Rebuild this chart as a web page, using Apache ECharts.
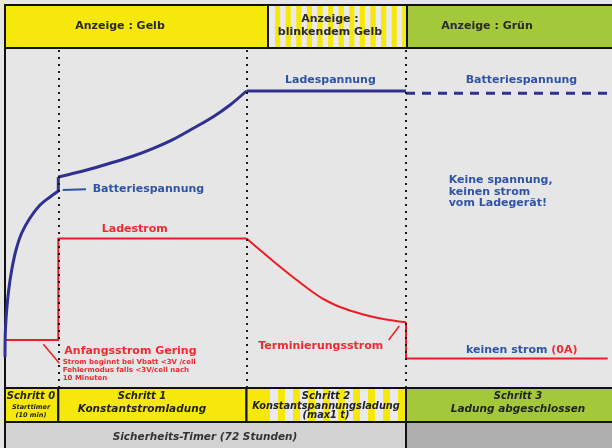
<!DOCTYPE html>
<html>
<head>
<meta charset="utf-8">
<script src="https://cdn.jsdelivr.net/npm/echarts@6/dist/echarts.min.js"></script>
<style>
html,body{margin:0;padding:0;background:#e6e6e6;}
.main{width:612px;height:448px;}
</style>
</head>
<body>
<div class="main"></div>
<script>
// time axis in free units (about one unit per pixel of the source drawing)
var tEnd = 607;
var stageEdges = [0, 53.3, 241.5, 401, 607];

// LED indicator row
var ledEdges = [0, 263, 402, 607];
var ledLabels = ['Anzeige : Gelb', 'Anzeige :\nblinkendem Gelb', 'Anzeige : Grün'];
var ledLabelAt = [115, 325, 482];

// step row
var stepTitles = ['Schritt 0', 'Schritt 1', 'Schritt 2', 'Schritt 3'];
var stepNames = ['Starttimer\n(10 min)', 'Konstantstromladung', 'Konstantspannungsladung\n(max1 t)', 'Ladung abgeschlossen'];
var stepLabelAt = [26, 137, 321, 513];

// safety timer row
var timerEdges = [0, 401, 607];
var timerLabels = ['Sicherheits-Timer (72 Stunden)', ''];
var timerLabelAt = [200, 504];

// Batteriespannung: rise in step 0, jump, rise in step 1, hold at Ladespannung
var voltRiseT = [0, 0.3, 1.7, 3.7, 6.7, 11, 16.7, 25, 35, 45, 53.3];
var voltRiseV = [31, 55, 78, 98, 118, 138, 155, 170, 183, 191, 197];
var voltJumpT = [53.3, 53.3];
var voltJumpV = [197, 211];
var voltMainT = [53.3, 81.7, 105, 128.3, 148.3, 168.3, 188.3, 208.3, 225, 241.5];
var voltMainV = [211, 218, 224.7, 232, 239.7, 248.7, 259.7, 271.3, 283, 297];
var voltHoldT = [241.5, 401];
var voltHoldV = [297, 297];
// voltage after charging ends (dashed)
var restT = [401, 607];
var restV = [294.7, 294.7];
// Ladestrom: low start, constant current, falling, off
var currStepT = [0, 53.3, 53.3, 241.5];
var currStepV = [48, 48, 149.5, 149.5];
var currFallT = [241.5, 258.3, 275, 291.7, 308.3, 318.3, 335, 358.3, 378.3, 401];
var currFallV = [149.5, 135.3, 121.3, 108, 95.5, 89, 81, 73.5, 69, 65.7];
var currOffT = [401, 401, 602.7];
var currOffV = [65.7, 29.5, 29.5];

// short pointer strokes next to labels
var battPtrT = [57.7, 81], battPtrV = [198, 198.7];
var startPtrT = [38.3, 54.3], startPtrV = [43.7, 24.7];
var termPtrT = [383.7, 394.3], termPtrV = [48, 62];

// labels inside the plot (left edge t, middle v)
var blueNotes = ['Ladespannung', 'Batteriespannung', 'Batteriespannung', 'Keine spannung,\nkeinen strom\nvom Ladegerät!', 'keinen strom {r|(0A)}'];
var blueNoteT = [280, 460.7, 87.7, 443.7, 461];
var blueNoteV = [308, 308, 199, 196, 38];
var redNotes = ['Ladestrom', 'Terminierungsstrom', 'Anfangsstrom Gering'];
var redNoteT = [96.7, 253.3, 59.3];
var redNoteV = [159, 42, 37];
var smallNotes = ['Strom beginnt bei Vbatt <3V /cell\nFehlermodus falls <3V/cell nach\n10 Minuten'];
var smallNoteT = [57.7];
var smallNoteV = [17.7];

var FONT = '"DejaVu Sans", Verdana, sans-serif';
var YELLOW = '#f6e80a', GREEN = '#a3c93a', LIGHT = '#e9e9ee';
var BLUE = '#2e3192', BLUE_TXT = '#2f53a6', RED = '#ee1c25', RED_TXT = '#ef2a33';

function zip(a, b) { return a.map(function (x, i) { return [x, b[i]]; }); }

function stripes(x0, x1, y0, h, start, period, w, color) {
  var out = [];
  for (var x = start; x < x1; x += period) {
    var a = Math.max(x, x0), b = Math.min(x + w, x1);
    if (b > a) out.push({ type: 'rect', shape: { x: a, y: y0, width: b - a, height: h }, style: { fill: color } });
  }
  return out;
}

function bandSeries(grid, edges, openBottom, fillFn, textFn) {
  var data = [];
  for (var i = 0; i < edges.length - 1; i++) data.push([edges[i], edges[i + 1], i]);
  return {
    type: 'custom', xAxisIndex: grid, yAxisIndex: grid, silent: true,
    data: data,
    renderItem: function (params, api) {
      var i = api.value(2);
      var p0 = api.coord([api.value(0), 1]);
      var p1 = api.coord([api.value(1), 0]);
      var x = p0[0], y = p0[1], w = p1[0] - p0[0], h = p1[1] - p0[1];
      // the drawing is cut at the right and bottom: no frame there
      var wb = i === edges.length - 2 ? w + 4 : w;
      var hb = openBottom ? h + 4 : h;
      var kids = fillFn(i, x, y, wb, hb);
      kids.push({ type: 'rect', shape: { x: x, y: y, width: wb, height: hb }, style: { fill: 'none', stroke: '#111', lineWidth: 2 } });
      kids = kids.concat(textFn(i, x, y, w, h, api));
      return { type: 'group', children: kids };
    }
  };
}

function noteSeries(texts, ts, vs, color, size, lh) {
  return {
    type: 'custom', xAxisIndex: 1, yAxisIndex: 1, z: 6, silent: true,
    data: texts.map(function (s, i) { return [ts[i], vs[i], i]; }),
    renderItem: function (params, api) {
      var p = api.coord([api.value(0), api.value(1)]);
      return {
        type: 'text',
        style: {
          text: texts[api.value(2)], x: p[0], y: p[1], align: 'left', verticalAlign: 'middle',
          fill: color, font: 'bold ' + size + 'px ' + FONT, lineHeight: lh,
          rich: { r: { fill: RED_TXT, font: 'bold ' + size + 'px ' + FONT } }
        }
      };
    }
  };
}

function box(x, y, w, h, fill) {
  return { type: 'rect', shape: { x: x, y: y, width: w, height: h }, style: { fill: fill } };
}

var ledSeries = bandSeries(0, ledEdges, false, function (i, x, y, w, h) {
  if (i === 0) return [box(x, y, w, h, YELLOW)];
  if (i === 2) return [box(x, y, w, h, GREEN)];
  return [box(x, y, w, h, LIGHT)].concat(stripes(x, x + w, y, h, x + 7, 10.6, 5.2, YELLOW));
}, function (i, x, y, w, h, api) {
  var cx = api.coord([ledLabelAt[i], 0])[0];
  return [{ type: 'text', style: { text: ledLabels[i], x: cx, y: y + h / 2 - (i === 1 ? 0.8 : 0), align: 'center', verticalAlign: 'middle',
    fill: '#2a2a2a', font: 'bold 11px ' + FONT, lineHeight: 13 } }];
});

var stepNameSize = [6.5, 10.5, 9.8, 10.5];
var stepSeries = bandSeries(2, stageEdges, false, function (i, x, y, w, h) {
  if (i === 3) return [box(x, y, w, h, GREEN)];
  var base = [box(x, y, w, h, YELLOW)];
  if (i === 2) base = base.concat(stripes(x + 23, x + w, y, h, x + 23.5, 15, 8, LIGHT));
  return base;
}, function (i, x, y, w, h, api) {
  var cx = api.coord([stepLabelAt[i], 0])[0];
  var two = stepNames[i].indexOf('\n') >= 0;
  return [
    { type: 'text', style: { text: stepTitles[i], x: cx, y: y + 8.5, align: 'center', verticalAlign: 'middle',
      fill: '#222', font: 'italic bold 10px ' + FONT } },
    { type: 'text', style: { text: stepNames[i], x: cx, y: y + (two ? 23.3 : 21.3), align: 'center', verticalAlign: 'middle',
      fill: '#222', font: 'italic bold ' + stepNameSize[i] + 'px ' + FONT, lineHeight: i === 0 ? 7.5 : 9 } }
  ];
});

var timerSeries = bandSeries(3, timerEdges, true, function (i, x, y, w, h) {
  return [box(x, y, w, h, i === 0 ? '#d3d3d3' : '#aeaeae')];
}, function (i, x, y, w, h, api) {
  var cx = api.coord([timerLabelAt[i], 0])[0];
  return [{ type: 'text', style: { text: timerLabels[i], x: cx, y: y + 15, align: 'center', verticalAlign: 'middle',
    fill: '#333', font: 'italic bold 10.5px ' + FONT } }];
});

var grids = [
  { left: 5, right: 0, top: 5, height: 43 },
  { left: 5, right: 0, top: 48, height: 340 },
  { left: 5, right: 0, top: 388, height: 34 },
  { left: 5, right: 0, top: 422, height: 26 }
];
var xAxes = grids.map(function (g, i) { return { type: 'value', gridIndex: i, min: 0, max: tEnd, show: false }; });
var yAxes = grids.map(function (g, i) {
  if (i === 1) return { type: 'value', gridIndex: 1, min: 0, max: 340, axisLine: { show: true, lineStyle: { color: '#111', width: 2 } },
    axisTick: { show: false }, axisLabel: { show: false }, splitLine: { show: false } };
  return { type: 'value', gridIndex: i, min: 0, max: 1, show: false };
});

function lineSeries(name, t, v, color, width, opts) {
  opts = opts || {};
  return { name: name, type: 'line', xAxisIndex: 1, yAxisIndex: 1, data: zip(t, v), showSymbol: false, symbol: 'none', z: 4,
    smooth: opts.smooth || false,
    lineStyle: { color: color, width: width, type: opts.dash || 'solid', cap: 'butt', join: 'round' } };
}

var stageLines = lineSeries('Schritte', [], [], '#000', 0);
stageLines.z = 3;
stageLines.markLine = {
  silent: true, symbol: 'none', label: { show: false },
  lineStyle: { color: '#1a1a1a', width: 2, type: [2, 5], cap: 'butt' },
  data: stageEdges.slice(1, 4).map(function (t) { return { xAxis: t }; })
};

var myChart = echarts.init(document.querySelector('.main'));
myChart.setOption({
  animation: false,
  backgroundColor: '#e6e6e6',
  grid: grids,
  xAxis: xAxes,
  yAxis: yAxes,
  series: [
    ledSeries, stepSeries, timerSeries, stageLines,
    lineSeries('Ladestrom', currStepT, currStepV, RED, 2),
    lineSeries('Ladestrom fallend', currFallT, currFallV, RED, 2, { smooth: 0.35 }),
    lineSeries('Ladestrom aus', currOffT, currOffV, RED, 2),
    lineSeries('Batteriespannung', voltRiseT, voltRiseV, BLUE, 3, { smooth: 0.35 }),
    lineSeries('Batteriespannung Sprung', voltJumpT, voltJumpV, BLUE, 3),
    lineSeries('Batteriespannung Laden', voltMainT, voltMainV, BLUE, 3, { smooth: 0.35 }),
    lineSeries('Ladespannung', voltHoldT, voltHoldV, BLUE, 3),
    lineSeries('Batteriespannung Ruhe', restT, restV, BLUE, 3, { dash: [9, 7] }),
    lineSeries('p1', battPtrT, battPtrV, BLUE_TXT, 2),
    lineSeries('p2', startPtrT, startPtrV, RED, 1.5),
    lineSeries('p3', termPtrT, termPtrV, RED, 1.5),
    noteSeries(blueNotes, blueNoteT, blueNoteV, BLUE_TXT, 11, 11.5),
    noteSeries(redNotes, redNoteT, redNoteV, RED_TXT, 11, 12),
    noteSeries(smallNotes, smallNoteT, smallNoteV, RED_TXT, 7, 7.7)
  ]
});
</script>
</body>
</html>
